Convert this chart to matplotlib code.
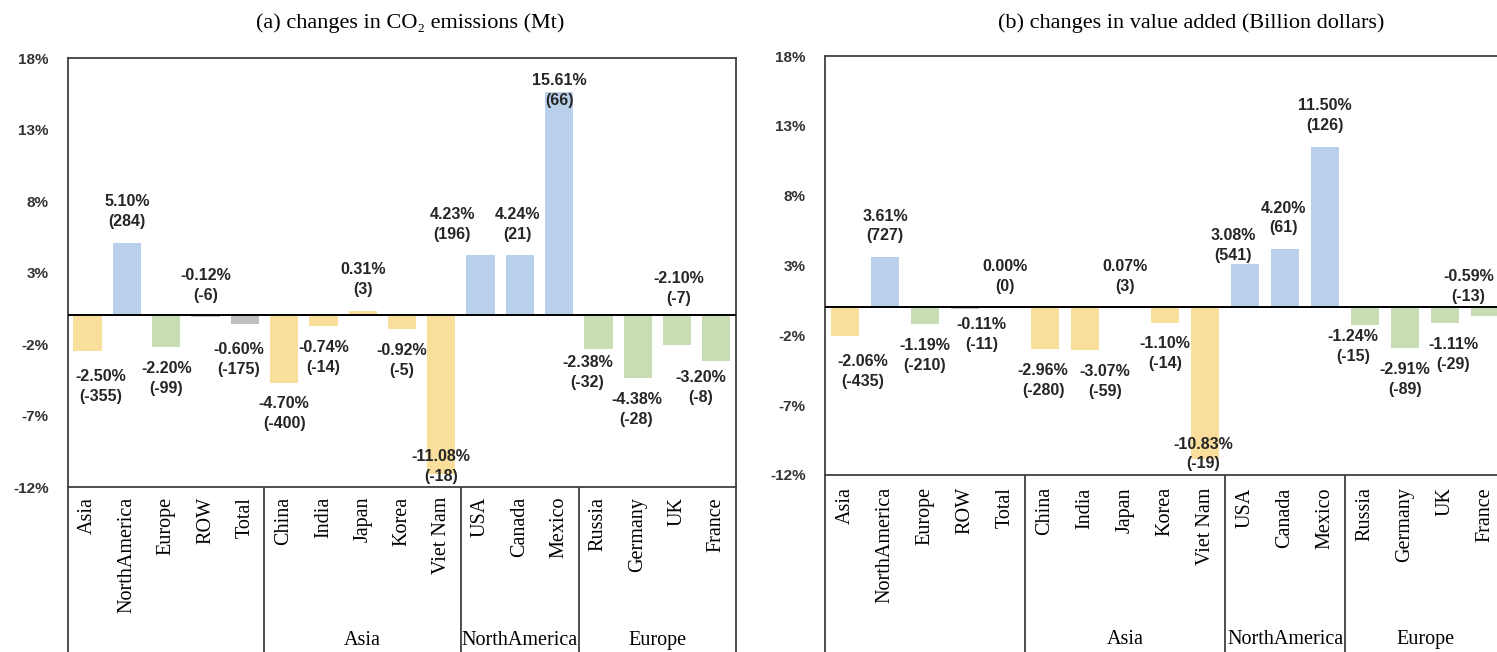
import matplotlib
matplotlib.use('Agg')
import matplotlib.pyplot as plt
import numpy as np

# 数据
regions = ['Asia', 'NorthAmerica', 'Europe', 'ROW', 'Total',
           'China', 'India', 'Japan', 'Korea', 'Viet Nam',
           'USA', 'Canada', 'Mexico',
           'Russia', 'Germany', 'UK', 'France']
region_group = ['asia', 'na', 'eu', 'row', 'row',
                'asia', 'asia', 'asia', 'asia', 'asia',
                'na', 'na', 'na',
                'eu', 'eu', 'eu', 'eu']
group_names = ['Asia', 'NorthAmerica', 'Europe']

co2_pct = [-2.50, 5.10, -2.20, -0.12, -0.60, -4.70, -0.74, 0.31, -0.92, -11.08,
           4.23, 4.24, 15.61, -2.38, -4.38, -2.10, -3.20]
co2_abs = [-355, 284, -99, -6, -175, -400, -14, 3, -5, -18,
           196, 21, 66, -32, -28, -7, -8]

va_pct = [-2.06, 3.61, -1.19, -0.11, 0.00, -2.96, -3.07, 0.07, -1.10, -10.83,
          3.08, 4.20, 11.50, -1.24, -2.91, -1.11, -0.59]
va_abs = [-435, 727, -210, -11, 0, -280, -59, 3, -14, -19,
          541, 61, 126, -15, -89, -29, -13]

yticks = [18, 13, 8, 3, -2, -7, -12]

# 标签位置 (y 为百分比, dx 为柱宽单位偏移)
co2_lab_y = [-4.97, 7.27, -4.41, 2.1, -3.08, -6.85, -2.94, 2.52, -3.15, -10.56,
             6.36, 6.36, 15.73, -3.99, -6.57, 1.89, -5.03]
co2_lab_dx = [0.33, 0, 0, 0, -0.15, 0, 0, 0, 0, 0,
              -0.72, -0.05, 0, -0.28, -0.03, 0.05, -0.4]
va_lab_y = [-4.6, 5.83, -3.45, -1.94, 2.23, -5.25, -5.32, 2.23, -3.31, -10.5,
            4.46, 6.4, 13.74, -2.8, -5.18, -3.38, 1.51]
va_lab_dx = [0.45, 0, 0, 0.42, 0, -0.05, 0.5, 0, 0, -0.05,
             -0.3, -0.05, 0, -0.3, 0, 0.2, -0.42]

colors = {'asia': '#F9DE9C', 'na': '#B8D0EA', 'eu': '#C8DDB3', 'row': '#BFBFBF'}
sep_pos = [4.5, 9.5, 12.5]
group_span = [(4.5, 9.5), (9.5, 12.5), (12.5, 16.5)]

serif = ['Liberation Serif', 'DejaVu Serif']
sans = ['Liberation Sans', 'DejaVu Sans']
spine_c = '#404040'

fig = plt.figure(figsize=(14.97, 6.52), dpi=100)


def draw_panel(rect, pct, absv, lab_y, lab_dx, title, title_x, cat_top):
    ax = fig.add_axes(rect)
    x = np.arange(len(regions))
    ax.bar(x, pct, width=0.72, color=[colors[g] for g in region_group], zorder=2)
    ax.axhline(0, color='black', lw=1.4, zorder=3)
    ax.set_xlim(-0.5, len(regions) - 0.5)
    ax.set_ylim(-12, 18)
    ax.set_yticks(yticks)
    ax.set_yticklabels([f'{t}%' for t in yticks], fontfamily=sans,
                       fontweight='bold', fontsize=11, color='#333333')
    ax.tick_params(axis='y', length=0, pad=14)
    ax.set_xticks([])
    for s in ax.spines.values():
        s.set_color(spine_c)
        s.set_linewidth(1.3)
    for i in range(len(regions)):
        ax.text(i + lab_dx[i], lab_y[i], f'{pct[i]:.2f}%\n({absv[i]})',
                ha='center', va='center', fontfamily=sans, fontweight='bold',
                fontsize=11.5, color='#262626', linespacing=1.4, zorder=4)
    fig.text(title_x, 0.965, title, ha='center', va='center',
             fontfamily=serif, fontsize=16)

    # 下方类别区域
    axc = fig.add_axes([rect[0], 0, rect[2], rect[1]])
    axc.set_xlim(-0.5, len(regions) - 0.5)
    axc.set_ylim(0, 1)
    axc.set_xticks([])
    axc.set_yticks([])
    axc.patch.set_alpha(0)
    axc.spines['top'].set_visible(False)
    axc.spines['bottom'].set_visible(False)
    for s in ['left', 'right']:
        axc.spines[s].set_color(spine_c)
        axc.spines[s].set_linewidth(1.3)
    for p in sep_pos:
        axc.axvline(p, color=spine_c, lw=1.3)
    for i, name in enumerate(regions):
        axc.text(i, cat_top, name, rotation=90, ha='center', va='top',
                 fontfamily=serif, fontsize=14.5)
    for (a, b), g in zip(group_span, group_names):
        axc.text((a + b) / 2, 0.072, g, ha='center', va='center',
                 fontfamily=serif, fontsize=14.5)
    return ax


draw_panel([0.0454, 0.253, 0.4462, 0.658], co2_pct, co2_abs, co2_lab_y, co2_lab_dx,
           '(a) changes in CO\u2082 emissions (Mt)', 410 / 1497, 0.94)
draw_panel([0.5511, 0.2715, 0.4543, 0.6425], va_pct, va_abs, va_lab_y, va_lab_dx,
           '(b) changes in value added (Billion dollars)', 1191 / 1497, 0.93)

plt.savefig('out.png', dpi=100)
